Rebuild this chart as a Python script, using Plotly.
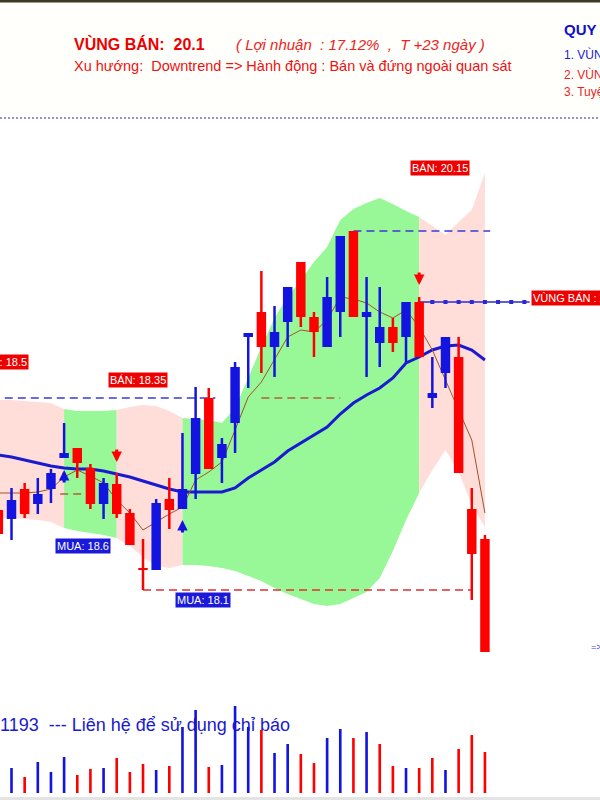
import plotly.graph_objects as go

# ---------------- data ----------------
idx = list(range(-1, 37))
opens = [18.02, 17.93, 18.23, 18.08, 18.23, 18.54, 18.64, 18.44, 18.08, 18.28,
         17.99, 17.43, 17.42, 18.13, 18.03, 18.38, 19.14, 18.54, 18.89, 19.75,
         20.00, 19.65, 19.90, 20.50, 19.95, 19.65, 20.00, 20.81, 19.95, 19.69,
         19.85, 19.75, 20.10, 19.14, 19.39, 19.55, 18.03, 17.73]
highs = [18.07, 18.24, 18.29, 18.34, 18.43, 18.89, 18.64, 18.48, 18.34, 18.39,
         18.03, 17.73, 18.13, 18.34, 18.79, 19.25, 19.24, 18.74, 19.50, 19.79,
         20.41, 20.06, 20.25, 20.50, 20.00, 20.35, 20.76, 20.81, 20.35, 20.25,
         19.94, 20.10, 20.15, 19.55, 19.75, 19.75, 18.24, 17.77]
lows = [17.72, 17.72, 17.94, 17.98, 18.09, 18.54, 18.34, 18.03, 17.93, 17.94,
        17.67, 17.22, 17.42, 17.83, 18.03, 18.13, 18.43, 18.29, 18.59, 19.24,
        19.39, 19.35, 19.65, 19.85, 19.55, 19.65, 19.75, 19.95, 19.35, 19.45,
        19.60, 19.50, 19.55, 19.04, 19.24, 18.39, 17.12, 16.60]
closes = [17.78, 18.12, 17.98, 18.18, 18.39, 18.59, 18.49, 18.08, 18.29, 17.98,
          17.67, 17.42, 18.09, 18.02, 18.23, 18.94, 18.43, 18.68, 19.45, 19.79,
          19.65, 19.80, 20.25, 19.95, 19.80, 20.15, 20.76, 19.95, 20.00, 19.85,
          19.69, 20.10, 19.55, 19.19, 19.75, 18.39, 17.58, 16.60]
volumes = [300, 250, 160, 310, 210, 360, 180, 240, 250, 350, 210, 290, 230, 270,
           660, 830, 260, 280, 870, 660, 630, 400, 490, 390, 300, 550, 640, 550,
           610, 490, 270, 250, 250, 350, 230, 440, 580, 410]
ma_slow = [18.57, 18.55, 18.52, 18.49, 18.46, 18.44, 18.43, 18.43, 18.41, 18.38,
           18.35, 18.31, 18.27, 18.23, 18.20, 18.20, 18.20, 18.20, 18.24, 18.34,
           18.42, 18.50, 18.61, 18.69, 18.77, 18.85, 18.98, 19.09, 19.17, 19.24,
           19.34, 19.49, 19.55, 19.62, 19.66, 19.67, 19.62, 19.52]
ma_fast = [18.19, 18.19, 18.19, 18.20, 18.23, 18.35, 18.42, 18.36, 18.29, 18.12,
           17.99, 17.82, 17.90, 17.98, 18.05, 18.32, 18.40, 18.50, 18.82, 19.15,
           19.30, 19.52, 19.75, 19.82, 19.80, 19.92, 20.15, 20.13, 20.09, 20.00,
           19.94, 20.02, 19.85, 19.62, 19.32, 19.02, 18.72, 17.99]
band_upper = [19.12, 19.12, 19.11, 19.10, 19.09, 19.03, 19.01, 19.01, 19.01, 19.02,
              19.05, 19.07, 19.06, 19.01, 18.94, 18.93, 18.92, 18.89, 19.04, 19.34,
              19.65, 19.94, 20.15, 20.32, 20.50, 20.65, 20.92, 21.03, 21.09, 21.14,
              21.08, 21.01, 20.95, 20.86, 20.77, 20.90, 21.02, 21.39]
band_lower = [17.94, 17.94, 17.93, 17.92, 17.90, 17.84, 17.81, 17.79, 17.77, 17.74,
              17.66, 17.55, 17.46, 17.44, 17.47, 17.47, 17.46, 17.44, 17.41, 17.36,
              17.31, 17.24, 17.18, 17.13, 17.08, 17.06, 17.08, 17.14, 17.20, 17.34,
              17.61, 17.92, 18.19, 18.42, 18.62, 18.40, 18.07, 17.85]
# (start index, end index, state)
regions = [(-1, 4, "out"), (4, 8, "hold"), (8, 13, "out"), (13, 31, "hold"), (31, 36, "out")]
buy_signals = [(4, 18.42), (13, 17.92)]
sell_signals = [(8, 18.50), (31, 20.27)]

BLUE = "#1414e0"
RED = "#ff0000"
PINK = "#ffded9"
GREEN = "#98f898"

fig = go.Figure()

# band
for a, b, st in regions:
    xs = [i for i in idx if a <= i <= b]
    up = [band_upper[idx.index(i)] for i in xs]
    lo = [band_lower[idx.index(i)] for i in xs]
    fig.add_trace(go.Scatter(x=xs + xs[::-1], y=up + lo[::-1], fill="toself",
                             fillcolor=GREEN if st == "hold" else PINK,
                             line=dict(width=0), mode="lines", hoverinfo="skip"))

# footer text (beneath volume bars)
fig.add_trace(go.Scatter(x=[-0.875], y=[15.86], mode="text",
                         text=["1193\u00a0\u00a0--- Liên hệ để sử dụng chỉ báo"],
                         textposition="middle right",
                         textfont=dict(family="Liberation Sans", size=18, color="#1a1ad0"),
                         hoverinfo="skip"))

# moving averages
fig.add_trace(go.Scatter(x=idx, y=ma_slow, mode="lines", line=dict(color="#1a1ad0", width=3),
                         hoverinfo="skip"))
fig.add_trace(go.Scatter(x=idx, y=ma_fast, mode="lines", line=dict(color="#a0522d", width=1),
                         hoverinfo="skip"))

# dashed reference lines
def hline(x0, x1, y, color, dash="8px,5px", width=1.3):
    fig.add_trace(go.Scatter(x=[x0, x1], y=[y, y], mode="lines",
                             line=dict(color=color, width=width, dash=dash), hoverinfo="skip"))

hline(-1.5, 15.5, 19.14, "#3a3ad8")
hline(3.7, 8.5, 18.18, "#b0603a")
hline(19.0, 25.0, 19.14, "#b0603a")
hline(10, 35, 17.22, "#e03030")
hline(26, 36.4, 20.81, "#3a3ad8")
fig.add_trace(go.Scatter(x=[31, 39.4], y=[20.10, 20.10], mode="lines",
                         line=dict(color="#2a2ad0", width=1.5), hoverinfo="skip"))
fig.add_trace(go.Scatter(x=list(range(32, 40)), y=[20.10] * 8, mode="markers",
                         marker=dict(symbol="square", size=4, color="#2a2ad0"), hoverinfo="skip"))

# volume (overlay axis y2)
vcol = [BLUE] + [BLUE if closes[k] >= closes[k - 1] else RED for k in range(1, len(idx))]
fig.add_trace(go.Bar(x=idx, y=volumes, width=0.2, marker=dict(color=vcol, line=dict(width=0)),
                     yaxis="y2", hoverinfo="skip"))

# candles (overlay axis y3, same price scale, drawn above the band)
ccol = [RED if c < o else BLUE for o, c in zip(opens, closes)]
fig.add_trace(go.Bar(x=idx, y=[h - l for h, l in zip(highs, lows)], base=lows, width=0.19,
                     marker=dict(color=ccol, line=dict(width=0)), yaxis="y3", hoverinfo="skip"))
fig.add_trace(go.Bar(x=idx, y=[max(abs(c - o), 0.015) for o, c in zip(opens, closes)],
                     base=[min(o, c) for o, c in zip(opens, closes)], width=0.72,
                     marker=dict(color=ccol, line=dict(width=0)), yaxis="y3", hoverinfo="skip"))

ann = []
def label(x, y, text, bg, xanchor="center"):
    ann.append(dict(x=x, y=y, xref="x", yref="y", text=text, showarrow=False,
                    bgcolor=bg, borderpad=1, xanchor=xanchor, yanchor="middle",
                    font=dict(family="Liberation Sans", size=11, color="white")))

label(1.33, 19.50, "BÁN: 18.5", "#ee0000", "right")
label(9.62, 19.32, "BÁN: 18.35", "#ee0000")
label(32.6, 21.445, "BÁN: 20.15", "#ee0000")
label(39.5, 20.14, "VÙNG BÁN : 20.1", "#ee0000", "left")
label(5.44, 17.66, "MUA: 18.6", "#1a1ad8")
label(14.56, 17.12, "MUA: 18.1", "#1a1ad8")

for x, y in buy_signals:
    ann.append(dict(x=x, y=y, xref="x", yref="y", text="", showarrow=True, ax=0, ay=14,
                    arrowhead=2, arrowsize=0.7, arrowwidth=3, arrowcolor=BLUE))
for x, y in sell_signals:
    ann.append(dict(x=x, y=y, xref="x", yref="y", text="", showarrow=True, ax=0, ay=-14,
                    arrowhead=2, arrowsize=0.7, arrowwidth=3, arrowcolor=RED))

def ptext(xp, yp, text, size, color, xanchor="left"):
    ann.append(dict(x=xp / 600, y=1 - yp / 800, xref="paper", yref="paper", text=text,
                    showarrow=False, xanchor=xanchor, yanchor="middle",
                    font=dict(family="Liberation Sans", size=size, color=color)))

NB = "\u00a0"
ptext(72, 44, "<b>VÙNG BÁN:" + NB + NB + "20.1</b>", 16, "#ee0000")
ptext(234, 44, "<i>(" + NB + "Lợi nhuận" + NB + NB + ": 17.12%" + NB + NB + "," + NB + NB + "T +23 ngày )</i>", 15, "#ee2222")
ptext(72, 66, "Xu hướng:" + NB + NB + "Downtrend => Hành động : Bán và đứng ngoài quan sát", 14.5, "#ee1111")
ptext(562, 30, "<b>QUY TẮC</b>", 15, "#1010cc")
ptext(562, 55, "1. VÙNG MUA", 12, "#2020cc")
ptext(562, 74, "2. VÙNG BÁN", 12, "#ee2222")
ptext(562, 92, "3. Tuyệt đối", 12, "#ee2222")
ptext(589, 647, "=>", 9, "#4040d0")

shapes = [
    dict(type="rect", xref="paper", yref="paper", x0=0, x1=1, y0=1 - 2.5 / 800, y1=1,
         fillcolor="#3f3a28", line=dict(width=0)),
    dict(type="rect", xref="paper", yref="paper", x0=0, x1=1, y0=1 - 117 / 800, y1=1 - 2.5 / 800,
         fillcolor="#fffffc", line=dict(width=0), layer="below"),
    dict(type="line", xref="paper", yref="paper", x0=0, x1=1, y0=1 - 118 / 800, y1=1 - 118 / 800,
         line=dict(color="#7070b8", width=1.5, dash="2px,2px")),
    dict(type="rect", xref="paper", yref="paper", x0=0, x1=1, y0=0, y1=3 / 800,
         fillcolor="#e4e4e4", line=dict(width=0)),
]

fig.update_layout(
    width=600, height=800, margin=dict(l=0, r=0, t=0, b=0),
    paper_bgcolor="white", plot_bgcolor="white", showlegend=False,
    barmode="overlay",
    xaxis=dict(range=[-0.875, 44.75], visible=False, fixedrange=True),
    yaxis=dict(range=[15.12, 23.12], visible=False, fixedrange=True),
    yaxis2=dict(range=[-70, 7930], overlaying="y", visible=False, fixedrange=True),
    yaxis3=dict(range=[15.12, 23.12], overlaying="y", visible=False, fixedrange=True),
    annotations=ann, shapes=shapes,
)

fig.write_html("out.html", config={"displayModeBar": False},
               post_script="document.body.style.margin='0';")
